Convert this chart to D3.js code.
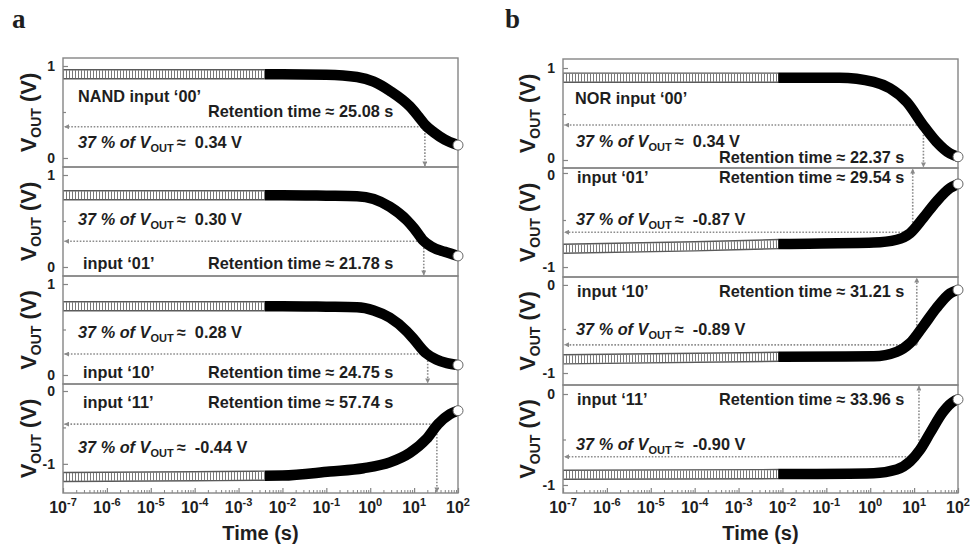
<!DOCTYPE html>
<html><head><meta charset="utf-8">
<script src="https://cdn.jsdelivr.net/npm/d3@7"></script>
<style>
body{margin:0;background:#fff}
text{font-family:"Liberation Sans",Arial,sans-serif;font-weight:bold;fill:#1e1e1e}
</style>
</head><body>
<svg id="c" width="970" height="545"></svg>
<script>
// ---------------- data ----------------
const timeDomain = [1e-7, 1e2];
const decadeTicks = [1e-7,1e-6,1e-5,1e-4,1e-3,1e-2,1e-1,1e0,1e1,1e2];
const decadeExponents = ["-7","-6","-5","-4","-3","-2","-1","0","1","2"];

// NAND curves [time (s), V_OUT (V)]
const nand00 = [[1e-7,0.91],[1e-4,0.91],[1e-2,0.91],[0.1,0.905],[0.5,0.88],[1.2,0.83],[2.8,0.73],[8,0.56],[12.6,0.45],[17.8,0.36],[28,0.28],[50,0.2],[100,0.14]];
const nand01 = [[1e-7,0.78],[1e-4,0.78],[1e-2,0.78],[0.1,0.775],[0.5,0.77],[1.2,0.74],[2.8,0.655],[6.8,0.51],[10,0.42],[16,0.29],[25,0.22],[50,0.165],[100,0.12]];
const nand10 = [[1e-7,0.755],[1e-4,0.755],[1e-2,0.755],[0.1,0.75],[0.5,0.745],[1.2,0.71],[2.8,0.63],[6.8,0.48],[10,0.39],[18.6,0.24],[32,0.17],[56,0.13],[100,0.11]];
const nand11 = [[1e-7,-1.18],[1e-4,-1.17],[1e-2,-1.16],[0.12,-1.105],[0.7,-1.06],[2.8,-0.98],[8,-0.85],[19,-0.66],[35,-0.455],[65,-0.32],[100,-0.27]];
// NOR curves
const nor00 = [[1e-7,0.895],[1e-4,0.895],[1e-2,0.895],[0.2,0.895],[1.2,0.85],[2.8,0.78],[6.8,0.63],[16,0.38],[32,0.2],[66,0.07],[100,0.035]];
const nor01 = [[1e-7,-0.805],[1e-4,-0.78],[1e-2,-0.755],[1.2,-0.74],[4,-0.71],[8.1,-0.64],[16,-0.48],[32,-0.305],[66,-0.16],[100,-0.117]];
const nor10 = [[1e-7,-0.845],[1e-2,-0.815],[1.2,-0.81],[4,-0.76],[8.1,-0.66],[16,-0.47],[32,-0.265],[66,-0.095],[100,-0.057]];
const nor11 = [[1e-7,-0.887],[1e-2,-0.88],[1.2,-0.87],[4,-0.83],[8.1,-0.74],[13.5,-0.615],[23,-0.43],[46,-0.195],[85,-0.073],[100,-0.06]];

const nandLabels = ["NAND input \u201800\u2019","input \u201801\u2019","input \u201810\u2019","input \u201811\u2019"];
const nandRetention = ["25.08","21.78","24.75","57.74"];
const nandPercent = ["0.34","0.30","0.28","-0.44"];
const nandMarkTime = [17.6,16.6,20.4,33];
const nandMarkLevel = [0.34,0.28,0.23,-0.455];

const norLabels = ["NOR input \u201800\u2019","input \u201801\u2019","input \u201810\u2019","input \u201811\u2019"];
const norRetention = ["22.37","29.54","31.21","33.96"];
const norPercent = ["0.34","-0.87","-0.89","-0.90"];
const norMarkTime = [16.3,9.3,11.5,12.9];
const norMarkLevel = [0.38,-0.63,-0.68,-0.69];

const nandYDomain = [[-0.098,1.087],[-0.098,1.087],[-0.099,1.088],[-1.4,0.096]];
const norYDomain  = [[-0.087,1.098],[-1.106,0.053],[-1.136,0.09],[-1.088,0.099]];
const nandYTicks = [[0,1],[0,1],[0,1],[-1,0]];
const norYTicks  = [[0,1],[-1,0],[-1,0],[-1,0]];
const nandYMinor = [[0.5],[0.5],[0.5],[-0.5]];
const norYMinor  = [[0.5],[-0.5],[-0.5],[-0.5]];

// ---------------- layout ----------------
const panels = [
  {letter:"a", letterX:12, left:63, right:458, bounds:[58,167,276,384,493], cut:4e-3, titleX:28,
   curves:[nand00,nand01,nand10,nand11], labels:nandLabels, ret:nandRetention, pct:nandPercent,
   markT:nandMarkTime, markV:nandMarkLevel, yDom:nandYDomain, yTicks:nandYTicks, yMinor:nandYMinor,
   arrowUp:[false,false,false,false],
   pos:[ {t:[15,44],r:[145,59],p:[15,90]}, {t:[20,102],r:[145,102],p:[15,58]},
         {t:[20,102],r:[145,102],p:[15,62]}, {t:[20,24],r:[145,24],p:[15,69]} ]},
  {letter:"b", letterX:505, left:563, right:958, bounds:[59,168,277,385,493], cut:8e-3, titleX:527,
   curves:[nor00,nor01,nor10,nor11], labels:norLabels, ret:norRetention, pct:norPercent,
   markT:norMarkTime, markV:norMarkLevel, yDom:norYDomain, yTicks:norYTicks, yMinor:norYMinor,
   arrowUp:[false,true,true,true],
   pos:[ {t:[12,45],r:[156,104],p:[13,88]}, {t:[14,15],r:[156,15],p:[13,57]},
         {t:[14,20],r:[156,20],p:[13,58]}, {t:[14,20],r:[156,20],p:[13,65]} ]}
];

const svg = d3.select("#c");
const defs = svg.append("defs");
defs.append("marker").attr("id","ah").attr("viewBox","0 0 6 6").attr("refX",5.5).attr("refY",3)
  .attr("markerWidth",5).attr("markerHeight",5).attr("markerUnits","userSpaceOnUse")
  .attr("orient","auto-start-reverse")
  .append("path").attr("d","M0,0 L6,3 L0,6 Z").attr("fill","#8a8a8a");

const frameColor = "#858585";
const dotColor = "#8c8c8c";

panels.forEach((P, pi) => {
  const x = d3.scaleLog().domain(timeDomain).range([P.left, P.right]);
  const g = svg.append("g");

  // panel letter
  g.append("text").attr("x",P.letterX).attr("y",28)
    .style("font-family","'Liberation Serif','Times New Roman',serif")
    .style("font-size","27px").text(P.letter);

  for (let i = 0; i < 4; i++) {
    const top = P.bounds[i], bot = P.bounds[i+1];
    const y = d3.scaleLinear().domain(P.yDom[i]).range([bot, top]);
    const sg = g.append("g");
    const cid = `clip-${pi}-${i}`;
    const xc = x(P.cut);
    defs.append("clipPath").attr("id",cid+"o").append("rect")
      .attr("x",P.left).attr("y",top).attr("width",xc-P.left).attr("height",bot-top);
    defs.append("clipPath").attr("id",cid+"s").append("rect")
      .attr("x",xc).attr("y",top).attr("width",P.right-xc).attr("height",bot-top);

    // annotations (text)
    const pos = P.pos[i];
    sg.append("text").attr("x",P.left+pos.t[0]).attr("y",top+pos.t[1])
      .style("font-size","16.3px").text(P.labels[i]);
    sg.append("text").attr("x",P.left+pos.r[0]).attr("y",top+pos.r[1])
      .style("font-size","16.3px").text(`Retention time \u2248 ${P.ret[i]} s`);
    const pt = sg.append("text").attr("x",P.left+pos.p[0]).attr("y",top+pos.p[1]).style("font-size","16.3px");
    pt.append("tspan").style("font-style","italic").text("37 % of V");
    pt.append("tspan").style("font-size","11px").attr("dy",4).text("OUT");
    pt.append("tspan").attr("dy",-4).text(`\u2009\u2248\u00a0\u00a0${P.pct[i]} V`);

    // dotted guide lines with arrows
    const mx = x(P.markT[i]), my = y(P.markV[i]);
    sg.append("line").attr("x1",mx).attr("y1",my).attr("x2",P.left+1.5).attr("y2",my)
      .attr("stroke",dotColor).attr("stroke-width",1.6).attr("stroke-dasharray","1.6 1.6")
      .attr("marker-end","url(#ah)");
    const vy2 = P.arrowUp[i] ? top+1 : bot-1;
    sg.append("line").attr("x1",mx).attr("y1",my).attr("x2",mx).attr("y2",vy2)
      .attr("stroke",dotColor).attr("stroke-width",1.6).attr("stroke-dasharray","1.6 1.6")
      .attr("marker-start","url(#ah)").attr("marker-end","url(#ah)");

    // curve
    const data = P.curves[i];
    const line = d3.line().x(d=>x(d[0])).y(d=>y(d[1])).curve(d3.curveMonotoneX);
    const dstr = line(data);
    const go = sg.append("g").attr("clip-path",`url(#${cid}o)`);
    go.append("path").attr("d",dstr).attr("fill","none").attr("stroke","#5a5a5a").attr("stroke-width",10.5);
    go.append("path").attr("d",dstr).attr("fill","none").attr("stroke","#fff").attr("stroke-width",7.6);
    go.append("path").attr("d",dstr).attr("fill","none").attr("stroke","#6a6a6a").attr("stroke-width",8)
      .attr("stroke-dasharray","0.9 2.1");
    const gs = sg.append("g").attr("clip-path",`url(#${cid}s)`);
    gs.append("path").attr("d",dstr).attr("fill","none").attr("stroke","#000").attr("stroke-width",10.5);

    // frame
    sg.append("rect").attr("x",P.left).attr("y",top).attr("width",P.right-P.left).attr("height",bot-top)
      .attr("fill","none").attr("stroke",frameColor).attr("stroke-width",1.4);

    // end marker (open circle)
    const last = data[data.length-1];
    sg.append("circle").attr("cx",x(last[0])).attr("cy",y(last[1])).attr("r",5)
      .attr("fill","#fff").attr("stroke","#666").attr("stroke-width",1);

    // y axis
    const ya = d3.axisLeft(y).tickValues(P.yTicks[i]).tickSize(-5).tickPadding(8).tickFormat(d3.format("d"));
    const yg = sg.append("g").attr("transform",`translate(${P.left},0)`).call(ya);
    yg.select(".domain").remove();
    yg.selectAll(".tick line").attr("stroke",frameColor).attr("stroke-width",1.2);
    const [tLo, tHi] = P.yTicks[i];
    yg.selectAll(".tick text").style("font-size","14px").attr("fill","#1e1e1e")
      .style("font-family","'Liberation Sans',Arial,sans-serif").style("font-weight","bold")
      .attr("dy", d => {
        // nudge labels that sit close to a neighbouring subplot's label
        if (pi === 1 && i === 0 && d === tLo) return "0.15em";
        if (pi === 1 && i === 1 && d === tHi) return "0.5em";
        return "0.32em";
      })
      .text(d => d < 0 ? "-" + Math.abs(d) : d);
    const ym = d3.axisLeft(y).tickValues(P.yMinor[i]).tickSize(-3).tickFormat("");
    const ymg = sg.append("g").attr("transform",`translate(${P.left},0)`).call(ym);
    ymg.select(".domain").remove();
    ymg.selectAll(".tick line").attr("stroke",frameColor).attr("stroke-width",1.2);

    // y title
    const cy = (top + bot) / 2;
    const yt = sg.append("text").attr("transform",`translate(${P.titleX + 8},${cy}) rotate(-90)`)
      .attr("text-anchor","middle").style("font-size","22px");
    yt.append("tspan").text("V");
    yt.append("tspan").style("font-size","14px").attr("dy",5).text("OUT");
    yt.append("tspan").attr("dy",-5).text(" (V)");

    // bottom axis on last subplot
    if (i === 3) {
      const minor = [];
      decadeTicks.slice(0,-1).forEach(d => { for (let k = 2; k <= 9; k++) minor.push(d*k); });
      const xm = d3.axisBottom(x).tickValues(minor).tickSize(-3).tickFormat("");
      const xmg = sg.append("g").attr("transform",`translate(0,${bot})`).call(xm);
      xmg.select(".domain").remove();
      xmg.selectAll(".tick line").attr("stroke",frameColor).attr("stroke-width",1);
      const xa = d3.axisBottom(x).tickValues(decadeTicks).tickSize(-5).tickFormat("");
      const xag = sg.append("g").attr("transform",`translate(0,${bot})`).call(xa);
      xag.select(".domain").remove();
      xag.selectAll(".tick line").attr("stroke",frameColor).attr("stroke-width",1.2);
      decadeTicks.forEach((d, k) => {
        const t = sg.append("text").attr("x",x(d)).attr("y",bot+20).attr("text-anchor","middle")
          .style("font-size","16px");
        t.append("tspan").text("10");
        t.append("tspan").attr("dy",-7).style("font-size","11px").text(decadeExponents[k]);
      });
      sg.append("text").attr("x",(P.left+P.right)/2).attr("y",bot+47).attr("text-anchor","middle")
        .style("font-size","20px").text("Time (s)");
    }
  }
});
</script>
</body></html>
